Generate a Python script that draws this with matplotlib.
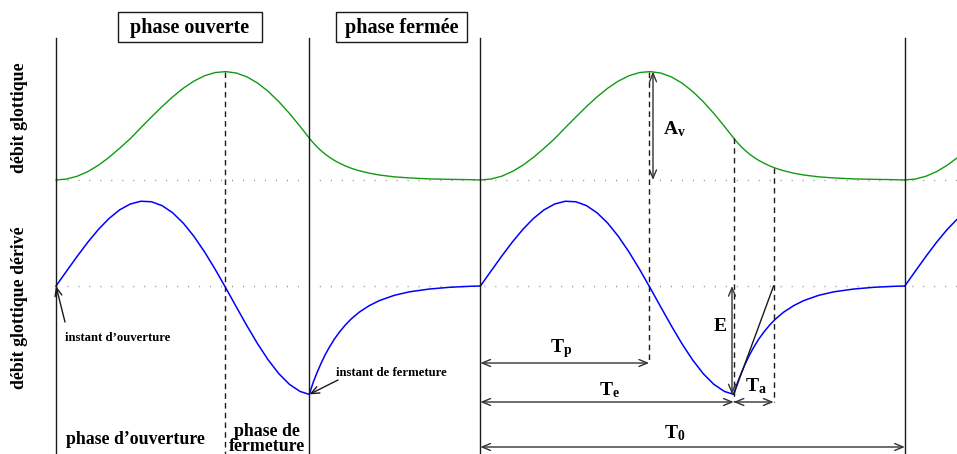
import matplotlib.pyplot as plt
from matplotlib.patches import Rectangle

# LF-type glottal pulse
# time in fractions of the period T0, derivative in units of E, flow in units of Av
Tp = 0.3975
Te = 0.5968
Ta = 0.094
T0 = 1.0

t = [0.0, 0.025, 0.05, 0.075, 0.1, 0.125, 0.15, 0.175, 0.2, 0.225, 0.25, 0.275,
     0.3, 0.325, 0.35, 0.375, 0.4, 0.425, 0.45, 0.475, 0.5, 0.525, 0.55, 0.575,
     0.5968, 0.6062, 0.6157, 0.6251, 0.6345, 0.6439, 0.6557, 0.6675, 0.6816,
     0.6958, 0.7146, 0.7382, 0.7617, 0.7971, 0.8324, 0.8796, 0.9267, 0.9738, 1.0]

dflow = [0.0, 0.1377, 0.2743, 0.4042, 0.5221, 0.6231, 0.7025, 0.7563, 0.7819,
         0.7771, 0.7413, 0.6749, 0.5796, 0.4581, 0.3147, 0.1543, -0.0174,
         -0.1937, -0.3679, -0.5330, -0.6819, -0.8086, -0.9071, -0.9727, -1.0,
         -0.887, -0.793, -0.709, -0.633, -0.566, -0.491, -0.427, -0.360, -0.303,
         -0.241, -0.181, -0.135, -0.086, -0.054, -0.028, -0.012, -0.003, 0.0]

flow = [0.0, 0.0087, 0.0347, 0.0777, 0.1363, 0.2088, 0.2927, 0.3812, 0.4825,
        0.5813, 0.6775, 0.7672, 0.8467, 0.9124, 0.9614, 0.9912, 0.9999, 0.9866,
        0.9511, 0.8941, 0.8172, 0.7228, 0.6142, 0.4951, 0.3863,
        0.342, 0.303, 0.268, 0.238, 0.211, 0.181, 0.156, 0.130, 0.108,
        0.085, 0.063, 0.046, 0.029, 0.019, 0.010, 0.006, 0.003, 0.0]

periods = [0, 1, 2]
flow_base = 0.978

plt.rcParams["font.family"] = "Liberation Serif"
plt.rcParams["font.weight"] = "bold"
plt.rcParams["mathtext.fontset"] = "custom"
plt.rcParams["mathtext.rm"] = "Liberation Serif:bold"
plt.rcParams["mathtext.it"] = "Liberation Serif:bold"

W, H = 957, 454
X0, Y0, SX, SY = 56, 286, 424.4, 108.4


def px(x, y):
    # layout helper: pixel position -> data position
    return (x - X0) / SX, (Y0 - y) / SY


fig = plt.figure(figsize=(W / 100, H / 100), dpi=100)
ax = fig.add_axes([0, 0, 1, 1])
xmin, ymax = px(0, 0)
xmax, ymin = px(W, H)
ax.set_xlim(xmin, xmax)
ax.set_ylim(ymin, ymax)
ax.axis("off")

green = "#129a12"
blue = "#0000ff"
k = "#1a1a1a"

# baselines
ax.plot([0, xmax], [flow_base, flow_base], color="#888888", lw=1, ls=(0, (0.7, 7.2)))
ax.plot([0, xmax], [0, 0], color="#888888", lw=1, ls=(0, (0.7, 7.2)))

for p in periods:
    ax.plot([p + ti for ti in t], [flow_base + f for f in flow], color=green, lw=1)
    ax.plot([p + ti for ti in t], dflow, color=blue, lw=1.1)

# solid vertical markers
ytop = px(0, 38)[1]
for xv in [0, Te, T0, 2 * T0]:
    ax.plot([xv, xv], [ytop, ymin], color=k, lw=1)

peak = flow_base + 1.0
ytp = px(0, 363)[1]
yte = px(0, 402)[1]
yt0 = px(0, 447)[1]
dash = dict(color=k, lw=1, ls=(0, (4, 3)))
ax.plot([Tp, Tp], [peak, ymin], **dash)
ax.plot([T0 + Tp, T0 + Tp], [peak, ytp], **dash)
ax.plot([T0 + Te, T0 + Te], [flow_base + flow[t.index(Te)], yte], **dash)
f_ta = flow_base + 0.115
ax.plot([T0 + Te + Ta, T0 + Te + Ta], [f_ta, yte], **dash)

# tangent at the excitation
ax.plot([T0 + Te, T0 + Te + Ta], [-1.0, 0.0], color=k, lw=1)

arr = dict(arrowstyle="<->,head_length=0.6,head_width=0.25", color="#333333",
           lw=1, shrinkA=0, shrinkB=0, mutation_scale=10)


def darrow(p1, p2):
    ax.annotate("", xy=p2, xytext=p1, arrowprops=arr)


xav = px(653, 0)[0]
xe = px(732, 0)[0]
darrow((xav, flow_base), (xav, peak))
darrow((xe, 0.0), (xe, -1.0))
darrow((T0, ytp), (T0 + Tp, ytp))
darrow((T0, yte), (T0 + Te, yte))
darrow((T0 + Te, yte), (T0 + Te + Ta, yte))
darrow((T0, yt0), (2 * T0, yt0))

fs_t = 14
ax.text(*px(663, 134), r"$\mathrm{A_v}$", fontsize=fs_t, ha="left", va="baseline")
ax.text(*px(727, 331), "E", fontsize=fs_t, ha="right", va="baseline")
ax.text(*px(561, 352), r"$\mathrm{T_p}$", fontsize=fs_t, ha="center", va="baseline")
ax.text(*px(609, 395), r"$\mathrm{T_e}$", fontsize=fs_t, ha="center", va="baseline")
ax.text(*px(756, 391), r"$\mathrm{T_a}$", fontsize=fs_t, ha="center", va="baseline")
ax.text(*px(675, 438), r"$\mathrm{T_0}$", fontsize=fs_t, ha="center", va="baseline")

# phase boxes
for label, (x1, x2) in [("phase ouverte", (118, 262)), ("phase fermée", (336, 467))]:
    bx, by = px(x1, 42)
    bx2, by2 = px(x2, 12)
    ax.add_patch(Rectangle((bx, by), bx2 - bx, by2 - by, fill=False, ec=k, lw=1))
    ax.text(*px((x1 + x2) / 2, 28), label, fontsize=14.5, ha="center", va="center")

ax.text(*px(20, 118), "débit glottique", fontsize=12.8, rotation=90,
        ha="center", va="center")
ax.text(*px(20, 308), "débit glottique dérivé", fontsize=12.8, rotation=90,
        ha="center", va="center")

ax.text(*px(135.5, 440), "phase d’ouverture", fontsize=12.8, ha="center", va="center")
ax.text(*px(267, 439), "phase de\nfermeture", fontsize=12.8, ha="center",
        va="center", linespacing=0.85)

ax.text(*px(65, 338), "instant d’ouverture", fontsize=9.2, ha="left", va="center")
ax.text(*px(336, 373), "instant de fermeture", fontsize=9.2, ha="left", va="center")
one = dict(arrowstyle="->,head_length=0.6,head_width=0.25", color=k, lw=1,
           shrinkA=0, shrinkB=0, mutation_scale=10)
ax.annotate("", xy=(0, 0), xytext=px(65, 322), arrowprops=one)
ax.annotate("", xy=(Te, -1.0), xytext=px(338, 380), arrowprops=one)

fig.savefig("out.png", dpi=100)
